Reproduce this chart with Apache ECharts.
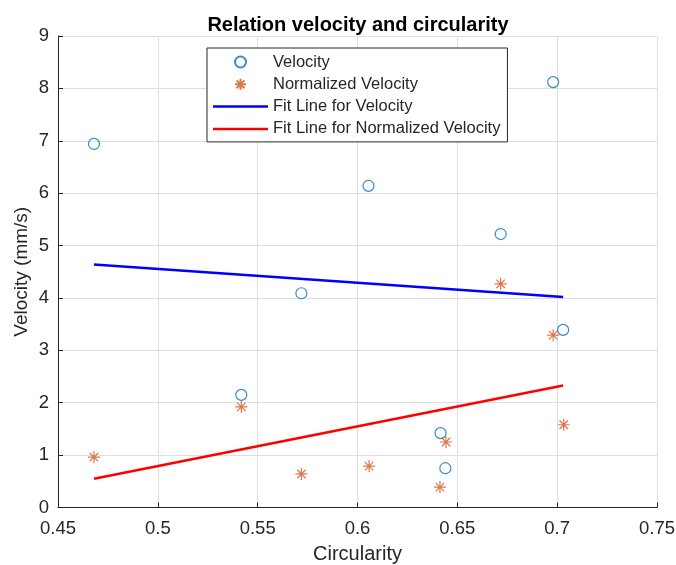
<!DOCTYPE html>
<html>
<head>
<meta charset="utf-8">
<script src="https://cdn.jsdelivr.net/npm/echarts@6/dist/echarts.min.js"></script>
<style>html,body{margin:0;padding:0;background:#fff;}#c{width:676px;height:565px;}</style>
</head>
<body>
<div id="c"></div>
<script>
// Data
var circularity = [0.468, 0.5418, 0.5719, 0.6055, 0.6416, 0.644, 0.6717, 0.698, 0.703];
var velocity = [6.94, 2.15, 4.09, 6.14, 1.42, 0.75, 5.22, 8.12, 3.39];
var normCircularity = [0.468, 0.5418, 0.5719, 0.6058, 0.6413, 0.6443, 0.6717, 0.698, 0.7033];
var normVelocity = [0.96, 1.92, 0.64, 0.79, 0.39, 1.25, 4.27, 3.29, 1.58];
var fitX = [0.468, 0.703];
var fitVelocity = [4.64, 4.02];
var fitNormVelocity = [0.55, 2.33];
var xTicks = [0.45, 0.5, 0.55, 0.6, 0.65, 0.7, 0.75];
var yTicks = [0, 1, 2, 3, 4, 5, 6, 7, 8, 9];

function pairs(xs, ys) { return xs.map(function (x, i) { return [x, ys[i]]; }); }

var FONT = '"Liberation Sans", Arial, Helvetica, sans-serif';
var TXT = '#262626';
var STAR = 'path://M0,-10L0,10M-10,0L10,0M-7.07,-7.07L7.07,7.07M-7.07,7.07L7.07,-7.07';
var BAR = 'path://M0,0L55,0L55,2.5L0,2.5Z';

var chart = echarts.init(document.getElementById('c'), null, {renderer: 'canvas'});
chart.setOption({
  animation: false,
  backgroundColor: '#fff',
  title: {
    text: 'Relation velocity and circularity',
    left: 353, top: 10, textAlign: 'center',
    textStyle: {fontFamily: FONT, fontSize: 20, fontWeight: 'bold', color: '#000', lineHeight: 20}
  },
  grid: {left: 58, right: 19, top: 36, bottom: 57.5, containLabel: false, outerBoundsMode: 'none'},
  legend: {
    orient: 'vertical',
    left: 207, top: 48,
    padding: [5.5, 7, 4.5, 6],
    itemWidth: 55, itemHeight: 11, itemGap: 5.3,
    backgroundColor: '#fff',
    borderColor: '#262626', borderWidth: 1,
    textStyle: {fontFamily: FONT, fontSize: 16.5, lineHeight: 17, color: TXT},
    data: [
      {name: 'Velocity', icon: 'circle'},
      {name: 'Normalized Velocity', icon: STAR},
      {name: 'Fit Line for Velocity', icon: BAR},
      {name: 'Fit Line for Normalized Velocity', icon: BAR}
    ]
  },
  xAxis: {
    type: 'value', min: xTicks[0], max: xTicks[xTicks.length - 1], interval: 0.05,
    name: 'Circularity', nameLocation: 'middle', nameGap: 37, nameMoveOverlap: false,
    nameTextStyle: {fontFamily: FONT, fontSize: 20, color: TXT},
    axisLine: {show: true, onZero: false, lineStyle: {color: TXT, width: 1}},
    axisTick: {show: true, inside: true, length: 5, lineStyle: {color: TXT}},
    axisLabel: {fontFamily: FONT, fontSize: 18.5, color: TXT, margin: 12,
      formatter: function (v) { return String(+v.toFixed(2)); }},
    splitLine: {show: true, lineStyle: {color: '#dfdfdf', width: 1}}
  },
  yAxis: {
    type: 'value', min: yTicks[0], max: yTicks[yTicks.length - 1], interval: 1,
    name: 'Velocity (mm/s)', nameLocation: 'middle', nameGap: 27, nameMoveOverlap: false,
    nameTextStyle: {fontFamily: FONT, fontSize: 19, color: TXT},
    axisLine: {show: true, lineStyle: {color: TXT, width: 1}},
    axisTick: {show: true, inside: true, length: 5, lineStyle: {color: TXT}},
    axisLabel: {fontFamily: FONT, fontSize: 18.5, color: TXT, margin: 9},
    splitLine: {show: true, lineStyle: {color: '#dfdfdf', width: 1}}
  },
  series: [
    {
      name: 'Velocity', type: 'scatter', symbol: 'circle', symbolSize: 11,
      itemStyle: {color: 'none', borderColor: '#0072BD', borderWidth: 1.2},
      data: pairs(circularity, velocity), z: 3
    },
    {
      name: 'Normalized Velocity', type: 'scatter', symbol: STAR, symbolSize: 12,
      itemStyle: {color: 'none', borderColor: '#D95319', borderWidth: 1.2},
      data: pairs(normCircularity, normVelocity), z: 3
    },
    {
      name: 'Fit Line for Velocity', type: 'line', showSymbol: false, symbol: 'none',
      lineStyle: {color: '#0000FF', width: 2.5}, itemStyle: {color: '#0000FF'},
      data: pairs(fitX, fitVelocity), z: 2
    },
    {
      name: 'Fit Line for Normalized Velocity', type: 'line', showSymbol: false, symbol: 'none',
      lineStyle: {color: '#FF0000', width: 2.5}, itemStyle: {color: '#FF0000'},
      data: pairs(fitX, fitNormVelocity), z: 2
    }
  ]
});
</script>
</body>
</html>
